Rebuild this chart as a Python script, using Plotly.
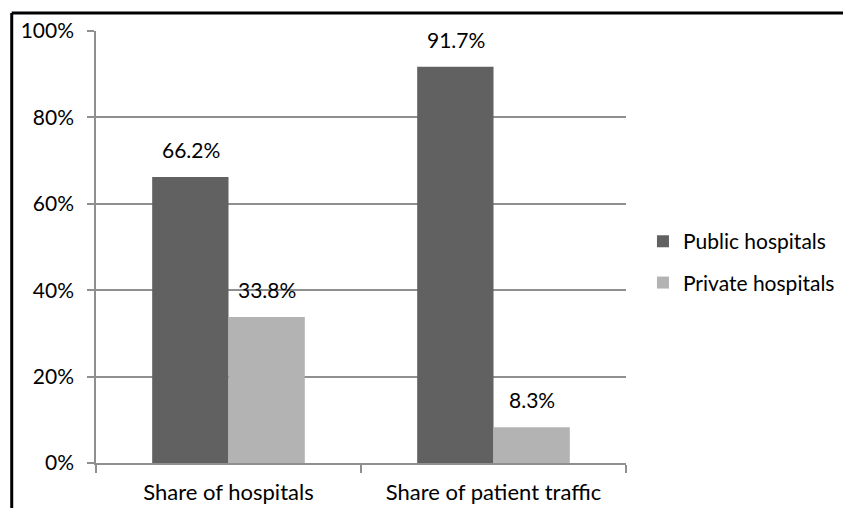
import plotly.graph_objects as go

# Share of hospitals and patient traffic by ownership type (%)
categories = ["Share of hospitals", "Share of patient traffic"]
public_values = [66.2, 91.7]
private_values = [33.8, 8.3]
series_names = ["Public hospitals", "Private hospitals"]
y_ticks = [0, 20, 40, 60, 80, 100]
y_tick_labels = ["0%", "20%", "40%", "60%", "80%", "100%"]

FONT = "Lato"
FONT_SIZE = 21
DARK = "#616161"
LIGHT = "#b3b3b3"
GRID = "#8f8f8f"

fig = go.Figure()
fig.add_trace(go.Bar(x=categories, y=public_values, name=series_names[0],
                     marker=dict(color=DARK, line=dict(width=0)),
                     legendgroup="a"))
fig.add_trace(go.Bar(x=categories, y=private_values, name=series_names[1],
                     marker=dict(color=LIGHT, line=dict(width=0)),
                     legendgroup="b"))

# Value labels above each bar
annotations = []
for vals, shift in ((public_values, -38), (private_values, 38)):
    for cat, v in zip(categories, vals):
        annotations.append(dict(x=cat, y=v, xref="x", yref="y",
                                text=f"{v:.1f}%", showarrow=False,
                                xshift=shift, yshift=13, yanchor="bottom",
                                font=dict(family=FONT, size=FONT_SIZE, color="#000")))

fig.update_layout(
    width=843, height=508,
    margin=dict(l=96, r=217, t=31, b=45, autoexpand=False),
    paper_bgcolor="white", plot_bgcolor="white",
    barmode="group", bargap=0.424, bargroupgap=0,
    font=dict(family=FONT, size=FONT_SIZE, color="#000"),
    showlegend=True,
    legend=dict(x=1.032, xanchor="left", y=0.465, yanchor="middle",
                traceorder="grouped", tracegroupgap=11,
                font=dict(family=FONT, size=FONT_SIZE, color="#000"),
                bgcolor="rgba(0,0,0,0)"),
    annotations=annotations,
    shapes=[
        dict(type="line", xref="paper", yref="paper", x0=-0.159, x1=1.5,
             y0=1.0417, y1=1.0417, line=dict(color="#000", width=3)),
        dict(type="line", xref="paper", yref="paper", x0=-0.159, x1=-0.159,
             y0=1.0417, y1=-0.2, line=dict(color="#000", width=3)),
    ],
)
fig.update_xaxes(showline=True, linecolor=GRID, linewidth=1.5,
                 ticks="outside", tickson="boundaries", ticklen=8,
                 tickcolor=GRID, tickwidth=1.5, showgrid=False,
                 ticklabelstandoff=9, automargin=False,
                 tickfont=dict(family=FONT, size=FONT_SIZE + 1, color="#000"))
fig.update_yaxes(range=[0, 100], tickvals=y_ticks, ticktext=y_tick_labels,
                 showline=True, linecolor=GRID, linewidth=1.5,
                 ticks="outside", ticklen=7, tickcolor=GRID, tickwidth=1.5,
                 showgrid=True, gridcolor=GRID, gridwidth=1.5,
                 zeroline=False, ticklabelstandoff=9, automargin=False,
                 tickfont=dict(family=FONT, size=FONT_SIZE, color="#000"))

fig.write_html("out.html")
